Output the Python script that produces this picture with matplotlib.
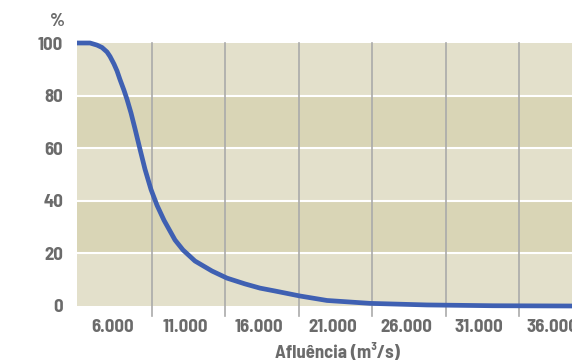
import matplotlib.pyplot as plt
from matplotlib.transforms import ScaledTranslation

# Curva de permanencia: afluencia (m3/s) vs % del tiempo excedido
afluencia = [3391, 4277, 4753, 5094, 5435, 5639, 5911, 6116, 6320, 6593,
             6797, 7070, 7342, 7683, 8023, 8432, 8841, 9318, 10067, 10612,
             11429, 12587, 13609, 14835, 15857, 16879, 18582, 20421, 23350,
             27233, 31729, 37110]
porcentaje = [100, 100, 99.2, 98.3, 96.6, 94.9, 92.0, 89.4, 86.1, 82.0,
              78.6, 73.4, 67.4, 59.6, 52.0, 44.3, 38.3, 32.6, 25.1, 21.3,
              17.1, 13.3, 10.6, 8.4, 6.8, 5.7, 3.8, 2.1, 1.0,
              0.4, 0.1, 0.0]

xticks = [6000, 11000, 16000, 21000, 26000, 31000, 36000]
xticklabels = ["6.000", "11.000", "16.000", "21.000", "26.000", "31.000", "36.000"]
vgrid = [8500, 13500, 18500, 23500, 28500, 33500]
yticks = [0, 20, 40, 60, 80, 100]

plt.rcParams['font.family'] = ['Barlow Semi Condensed', 'Barlow Condensed', 'DejaVu Sans']
gris = "#6b6b6b"
claro = "#e3e0cb"
oscuro = "#d9d5b6"

fig = plt.figure(figsize=(5.72, 3.63), dpi=100)
ax = fig.add_axes([77 / 572, 1 - 306 / 363, 1 - 77 / 572, (306 - 43) / 363])

# Bandas de fondo
for i in range(5):
    color = claro if i % 2 == 0 else oscuro
    ax.axhspan(i * 20, (i + 1) * 20, color=color, lw=0, zorder=0)

# Lineas horizontales blancas
for y in [20, 40, 60, 80]:
    ax.axhline(y, color="white", lw=1.5, zorder=1)

# Lineas verticales grises que bajan por debajo del eje
for x in vgrid:
    ax.axvline(x, ymin=-0.038, ymax=1, color="#aaaaaa", lw=1.2,
               zorder=1, clip_on=False)

ax.plot(afluencia, porcentaje, color="#3f60b2", lw=3.4, zorder=3,
        clip_on=False, solid_capstyle="butt", solid_joinstyle="round")

ax.set_xlim(3391, 37110)
ax.set_ylim(0, 100)

ax.set_xticks(xticks)
ax.set_xticklabels(xticklabels)
ax.set_yticks(yticks)
ax.tick_params(axis="both", length=0, labelcolor=gris, labelsize=13.5)
ax.tick_params(axis="x", pad=9)
ax.tick_params(axis="y", pad=10)
desplaza = ScaledTranslation(-3 / 100, 0, fig.dpi_scale_trans)
for lab in ax.get_xticklabels():
    lab.set_fontweight("bold")
    lab.set_transform(lab.get_transform() + desplaza)
for lab in ax.get_yticklabels():
    lab.set_fontweight("bold")

for s in ax.spines.values():
    s.set_visible(False)

fig.text(337 / 572, 1 - 353 / 363, "Afluência (m³/s)", ha="center",
         va="center", color=gris, fontsize=13.5, fontweight="bold")
fig.text(57 / 572, 1 - 21 / 363, "%", ha="center", va="center",
         color=gris, fontsize=13.5, fontweight="bold")

fig.savefig("out.png", dpi=100)
